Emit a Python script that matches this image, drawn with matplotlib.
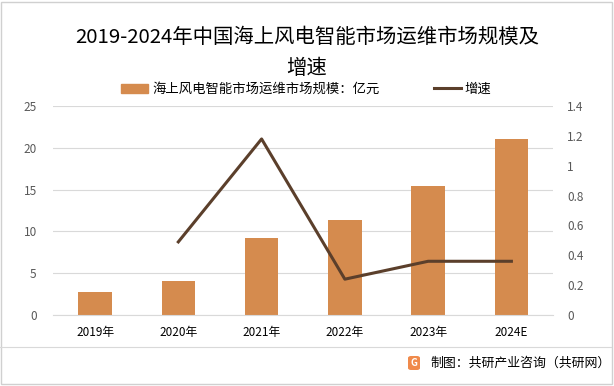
import matplotlib
matplotlib.use("Agg")
import matplotlib.pyplot as plt
from matplotlib.patches import Rectangle, FancyBboxPatch
from matplotlib.lines import Line2D

plt.rcParams['font.family'] = ['Noto Sans CJK SC', 'DejaVu Sans']

categories = ["2019年", "2020年", "2021年", "2022年", "2023年", "2024E"]
market_size = [2.75, 4.1, 9.2, 11.4, 15.5, 21.1]
growth = [None, 0.49, 1.18, 0.24, 0.36, 0.36]
left_ticks = [0, 5, 10, 15, 20, 25]
right_ticks = [0, 0.2, 0.4, 0.6, 0.8, 1, 1.2, 1.4]
right_tick_labels = ["0", "0.2", "0.4", "0.6", "0.8", "1", "1.2", "1.4"]

bar_color = "#D58B4E"
line_color = "#5B3F2B"

fig = plt.figure(figsize=(6.14, 3.86), dpi=100)
ax = fig.add_axes([0.087, 0.184, 0.8137, 0.541])
x = list(range(len(categories)))
ax.bar(x, market_size, width=0.4, color=bar_color, zorder=2)
ax.set_xlim(-0.5, len(categories) - 0.5)
ax.set_ylim(0, 25)
ax.set_yticks(left_ticks)
ax.set_xticks(x)
ax.set_xticklabels(categories, fontsize=8.5, color="#000000")
ax.tick_params(axis='y', labelsize=8.5, colors="#595959", length=0, pad=12)
ax.tick_params(axis='x', length=0, pad=8)
ax.grid(axis='y', color="#D9D9D9", linewidth=0.8, zorder=0)
for s in ["top", "right", "left"]:
    ax.spines[s].set_visible(False)
ax.spines["bottom"].set_color("#D9D9D9")

ax2 = ax.twinx()
gx = [i for i, g in zip(x, growth) if g is not None]
gy = [g for g in growth if g is not None]
ax2.plot(gx, gy, color=line_color, linewidth=2.2, zorder=3)
ax2.set_ylim(0, 1.4)
ax2.set_yticks(right_ticks)
ax2.set_yticklabels(right_tick_labels)
ax2.tick_params(axis='y', labelsize=8.5, colors="#595959", length=0, pad=10)
for s in ["top", "right", "left", "bottom"]:
    ax2.spines[s].set_visible(False)

# Title
fig.text(0.5, 1 - 37 / 386, "2019-2024年中国海上风电智能市场运维市场规模及", ha="center", va="center",
         fontsize=14.7, color="#000000")
fig.text(0.5, 1 - 68 / 386, "增速", ha="center", va="center", fontsize=14.7, color="#000000")

# Legend
handles = [Rectangle((0, 0), 1, 1, color=bar_color),
           Line2D([0], [0], color=line_color, linewidth=2.2)]
fig.legend(handles, ["海上风电智能市场运维市场规模：亿元", "增速"], loc="center",
           bbox_to_anchor=(0.4992, 1 - 89 / 386), ncol=2, frameon=False, fontsize=9.6,
           handlelength=2.0, handleheight=0.7, columnspacing=4.1, handletextpad=0.3)

# Separator and border
fig.add_artist(Line2D([0.0, 0.995], [1 - 347 / 386, 1 - 347 / 386], color="#D9D9D9",
                      linewidth=0.8, transform=fig.transFigure))
fig.add_artist(Rectangle((0.002, 0.004), 0.994, 0.992, fill=False, edgecolor="#D0D0D0",
                         linewidth=1.0, transform=fig.transFigure))

# Footer with logo
logo_x, logo_y = 408 / 614, 1 - 370 / 386
fig.add_artist(FancyBboxPatch((logo_x, logo_y), 12 / 614, 14 / 386,
                              boxstyle="round,pad=0,rounding_size=0.005",
                              facecolor="#F08A4B", edgecolor="none", transform=fig.transFigure))
fig.text(logo_x + 6 / 614, logo_y + 7 / 386, "G", ha="center", va="center", fontsize=7,
         color="white", fontweight="bold")
fig.text(430 / 614, 1 - 363 / 386, "制图：共研产业咨询（共研网）", ha="left", va="center",
         fontsize=9.3, color="#000000")

fig.savefig("out.png", dpi=100)
